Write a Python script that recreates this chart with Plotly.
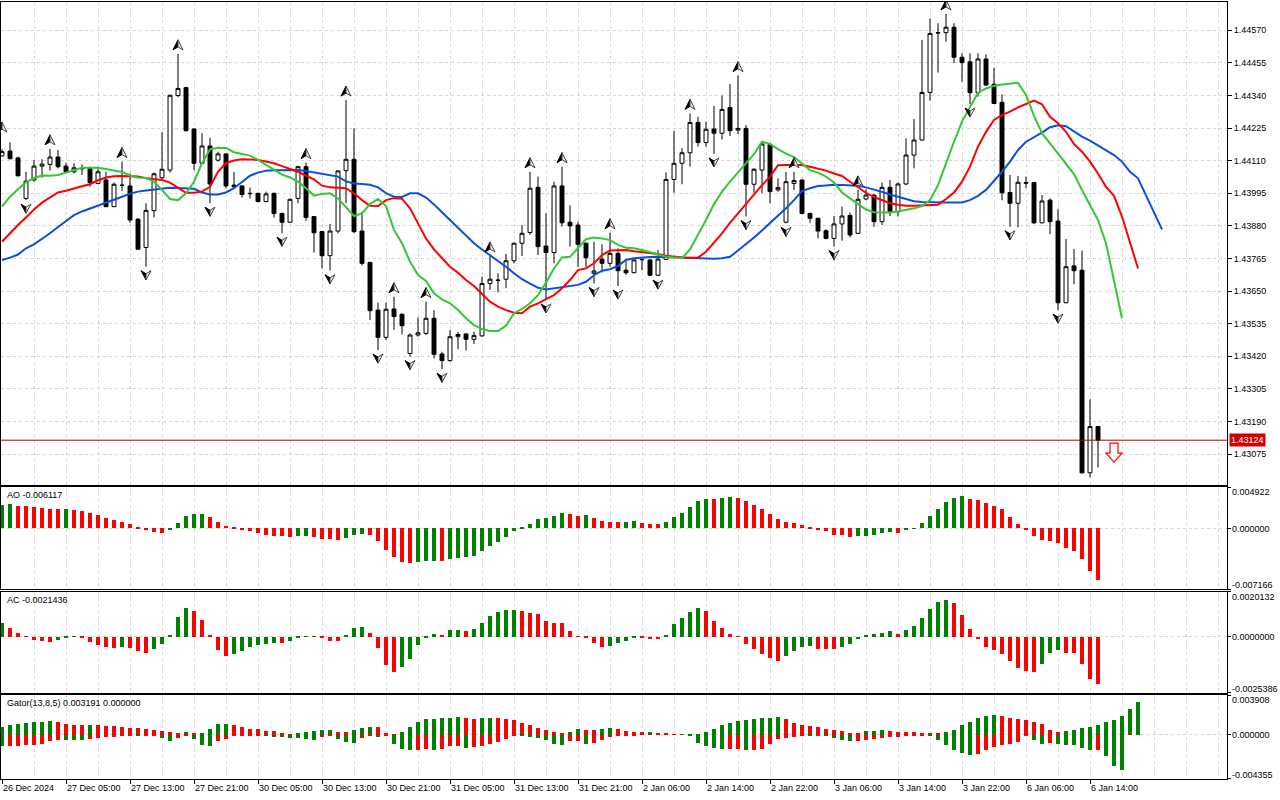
import plotly.graph_objects as go

# H1 candles, bar 0 = 26 Dec 2024 21:00
opens = [
    1.44127, 1.44144, 1.44120, 1.43977, 1.44042, 1.44091, 1.44097, 1.44123, 1.44091, 1.44071,
    1.44083, 1.44085, 1.44030, 1.44042, 1.43948, 1.44024, 1.44021, 1.43904, 1.43804, 1.43934,
    1.44050, 1.44077, 1.44340, 1.44368, 1.44222, 1.44101, 1.44162, 1.44112, 1.44134, 1.44024,
    1.44021, 1.43995, 1.43995, 1.43966, 1.43995, 1.43924, 1.43893, 1.43977, 1.44089, 1.43913,
    1.43860, 1.43775, 1.43862, 1.44075, 1.44115, 1.43862, 1.43751, 1.43583, 1.43487, 1.43587,
    1.43568, 1.43430, 1.43495, 1.43501, 1.43554, 1.43428, 1.43405, 1.43489, 1.43499, 1.43480,
    1.43492, 1.43677, 1.43689, 1.43692, 1.43757, 1.43819, 1.43857, 1.44016, 1.43809, 1.43786,
    1.44021, 1.43893, 1.43883, 1.43819, 1.43713, 1.43763, 1.43748, 1.43783, 1.43724, 1.43715,
    1.43762, 1.43760, 1.43706, 1.43762, 1.44044, 1.44101, 1.44138, 1.44245, 1.44174, 1.44222,
    1.44207, 1.44298, 1.44218, 1.44224, 1.44027, 1.44077, 1.44168, 1.44007, 1.43893, 1.44030,
    1.44042, 1.43924, 1.43907, 1.43863, 1.43836, 1.43887, 1.43917, 1.43854, 1.43975, 1.43989,
    1.43895, 1.44016, 1.43930, 1.44028, 1.44130, 1.44183, 1.44351, 1.44562, 1.44562, 1.44581,
    1.44475, 1.44459, 1.44350, 1.44469, 1.44380, 1.44316, 1.43998, 1.43960, 1.44033, 1.44033,
    1.43891, 1.43971, 1.43897, 1.43609, 1.43739, 1.43724, 1.43009, 1.43172,
]
highs = [
    1.44150, 1.44175, 1.44124, 1.44071, 1.44112, 1.44115, 1.44152, 1.44148, 1.44103, 1.44101,
    1.44097, 1.44089, 1.44083, 1.44071, 1.44033, 1.44107, 1.44065, 1.43907, 1.43960, 1.44068,
    1.44211, 1.44343, 1.44487, 1.44371, 1.44224, 1.44207, 1.44191, 1.44142, 1.44136, 1.44070,
    1.44024, 1.44015, 1.43997, 1.44001, 1.43997, 1.43927, 1.43976, 1.44092, 1.44103, 1.43915,
    1.43862, 1.43887, 1.44077, 1.44324, 1.44224, 1.43930, 1.43754, 1.43609, 1.43609, 1.43630,
    1.43572, 1.43501, 1.43557, 1.43613, 1.43583, 1.43436, 1.43513, 1.43506, 1.43501, 1.43507,
    1.43701, 1.43774, 1.43713, 1.43781, 1.43821, 1.43883, 1.44071, 1.44054, 1.43924, 1.44036,
    1.44089, 1.43953, 1.43895, 1.43821, 1.43824, 1.43815, 1.43856, 1.43801, 1.43760, 1.43762,
    1.43769, 1.43762, 1.43795, 1.44069, 1.44215, 1.44154, 1.44277, 1.44265, 1.44248, 1.44303,
    1.44340, 1.44381, 1.44410, 1.44236, 1.44083, 1.44171, 1.44170, 1.44048, 1.44071, 1.44071,
    1.44044, 1.43927, 1.43909, 1.43868, 1.43915, 1.43948, 1.43927, 1.44007, 1.44009, 1.43991,
    1.44033, 1.44042, 1.44033, 1.44189, 1.44257, 1.44536, 1.44612, 1.44595, 1.44628, 1.44595,
    1.44489, 1.44489, 1.44489, 1.44485, 1.44438, 1.44344, 1.44060, 1.44056, 1.44054, 1.44035,
    1.43989, 1.43977, 1.43939, 1.43834, 1.43798, 1.43793, 1.43268, 1.43172,
]
lows = [
    1.44124, 1.44115, 1.44054, 1.43971, 1.44036, 1.44050, 1.44075, 1.44083, 1.44068, 1.44065,
    1.44060, 1.44018, 1.44027, 1.43946, 1.43946, 1.44004, 1.43891, 1.43795, 1.43736, 1.43910,
    1.44042, 1.44068, 1.44334, 1.44213, 1.44077, 1.44098, 1.43960, 1.44107, 1.44013, 1.44016,
    1.43980, 1.43977, 1.43963, 1.43963, 1.43910, 1.43854, 1.43890, 1.43960, 1.43898, 1.43786,
    1.43730, 1.43722, 1.43854, 1.43960, 1.43854, 1.43740, 1.43548, 1.43442, 1.43477, 1.43513,
    1.43497, 1.43419, 1.43489, 1.43495, 1.43413, 1.43374, 1.43401, 1.43445, 1.43440, 1.43463,
    1.43489, 1.43654, 1.43645, 1.43660, 1.43748, 1.43774, 1.43848, 1.43777, 1.43619, 1.43748,
    1.43877, 1.43807, 1.43736, 1.43736, 1.43677, 1.43716, 1.43736, 1.43668, 1.43707, 1.43713,
    1.43724, 1.43703, 1.43703, 1.43760, 1.43997, 1.44027, 1.44089, 1.44160, 1.44160, 1.44134,
    1.44185, 1.44197, 1.44204, 1.43913, 1.43997, 1.43995, 1.43960, 1.44001, 1.43889, 1.44007,
    1.43921, 1.43891, 1.43836, 1.43833, 1.43807, 1.43828, 1.43840, 1.43851, 1.43971, 1.43877,
    1.43883, 1.43915, 1.43913, 1.44024, 1.44083, 1.44181, 1.44322, 1.44421, 1.44530, 1.44454,
    1.44389, 1.44310, 1.44336, 1.44374, 1.44310, 1.43971, 1.43877, 1.43875, 1.44013, 1.43887,
    1.43889, 1.43851, 1.43583, 1.43607, 1.43674, 1.43007, 1.42993, 1.43028,
]
closes = [
    1.44142, 1.44117, 1.44057, 1.44038, 1.44091, 1.44098, 1.44123, 1.44089, 1.44071, 1.44085,
    1.44082, 1.44033, 1.44071, 1.43948, 1.44027, 1.44023, 1.43901, 1.43798, 1.43935, 1.44064,
    1.44080, 1.44341, 1.44365, 1.44216, 1.44101, 1.44162, 1.44028, 1.44134, 1.44021, 1.44018,
    1.43991, 1.43994, 1.43966, 1.43993, 1.43924, 1.43893, 1.43974, 1.44089, 1.43910, 1.43856,
    1.43775, 1.43862, 1.44074, 1.44115, 1.43860, 1.43748, 1.43581, 1.43487, 1.43586, 1.43560,
    1.43528, 1.43495, 1.43503, 1.43554, 1.43427, 1.43405, 1.43489, 1.43497, 1.43480, 1.43493,
    1.43677, 1.43692, 1.43688, 1.43757, 1.43819, 1.43854, 1.44013, 1.43807, 1.43786, 1.44021,
    1.43891, 1.43880, 1.43815, 1.43768, 1.43721, 1.43748, 1.43783, 1.43722, 1.43715, 1.43760,
    1.43761, 1.43706, 1.43763, 1.44044, 1.44101, 1.44138, 1.44245, 1.44174, 1.44221, 1.44207,
    1.44291, 1.44216, 1.44224, 1.44027, 1.44080, 1.44169, 1.44001, 1.44015, 1.44036, 1.44040,
    1.43924, 1.43907, 1.43862, 1.43836, 1.43887, 1.43915, 1.43848, 1.43974, 1.43989, 1.43895,
    1.44016, 1.43930, 1.44028, 1.44130, 1.44183, 1.44351, 1.44559, 1.44561, 1.44581, 1.44475,
    1.44456, 1.44350, 1.44469, 1.44377, 1.44312, 1.43997, 1.43960, 1.44034, 1.44031, 1.43891,
    1.43968, 1.43895, 1.43609, 1.43736, 1.43722, 1.43009, 1.43172, 1.43124,
]

# Alligator lines, drawn with their forward shift (jaw +8, teeth +5, lips +3)
jaw = [
    1.43760, 1.43768, 1.43779, 1.43801, 1.43815, 1.43834, 1.43854, 1.43876, 1.43898, 1.43918,
    1.43931, 1.43941, 1.43951, 1.43962, 1.43971, 1.43983, 1.43994, 1.44001, 1.44005, 1.44009,
    1.44013, 1.44015, 1.44014, 1.44013, 1.44011, 1.43998, 1.43991, 1.43991, 1.43998, 1.44013,
    1.44036, 1.44057, 1.44068, 1.44075, 1.44076, 1.44077, 1.44077, 1.44077, 1.44074, 1.44069,
    1.44063, 1.44060, 1.44054, 1.44037, 1.44030, 1.44028, 1.44025, 1.44016, 1.43996, 1.43983,
    1.43982, 1.43995, 1.43995, 1.43980, 1.43956, 1.43928, 1.43901, 1.43874, 1.43844, 1.43819,
    1.43797, 1.43777, 1.43756, 1.43736, 1.43713, 1.43692, 1.43676, 1.43662, 1.43656, 1.43660,
    1.43663, 1.43666, 1.43672, 1.43683, 1.43706, 1.43722, 1.43727, 1.43739, 1.43760, 1.43766,
    1.43769, 1.43770, 1.43771, 1.43770, 1.43769, 1.43767, 1.43766, 1.43764, 1.43764, 1.43764,
    1.43766, 1.43771, 1.43793, 1.43815, 1.43839, 1.43864, 1.43889, 1.43915, 1.43942, 1.43971,
    1.44003, 1.44013, 1.44021, 1.44023, 1.44025, 1.44024, 1.44023, 1.44022, 1.44016, 1.44009,
    1.44000, 1.43991, 1.43983, 1.43974, 1.43967, 1.43964, 1.43963, 1.43963, 1.43963, 1.43963,
    1.43963, 1.43971, 1.43986, 1.44007, 1.44038, 1.44071, 1.44107, 1.44148, 1.44177, 1.44192,
    1.44209, 1.44228, 1.44235, 1.44232, 1.44212, 1.44195, 1.44181, 1.44164, 1.44147, 1.44130,
    1.44107, 1.44071, 1.44048, 1.43986, 1.43924, 1.43868,
]
teeth = [
    1.43824, 1.43854, 1.43883, 1.43910, 1.43938, 1.43962, 1.43981, 1.43998, 1.44004, 1.44013,
    1.44020, 1.44027, 1.44041, 1.44051, 1.44055, 1.44056, 1.44056, 1.44054, 1.44048, 1.44044,
    1.44042, 1.44033, 1.44015, 1.43997, 1.43997, 1.44001, 1.44018, 1.44071, 1.44102, 1.44111,
    1.44115, 1.44115, 1.44113, 1.44107, 1.44101, 1.44091, 1.44081, 1.44071, 1.44057, 1.44044,
    1.44022, 1.44016, 1.44015, 1.44013, 1.43995, 1.43971, 1.43951, 1.43950, 1.43971, 1.43978,
    1.43976, 1.43942, 1.43889, 1.43836, 1.43797, 1.43766, 1.43736, 1.43715, 1.43689, 1.43668,
    1.43642, 1.43613, 1.43595, 1.43583, 1.43574, 1.43572, 1.43595, 1.43607, 1.43622, 1.43636,
    1.43660, 1.43689, 1.43724, 1.43730, 1.43748, 1.43777, 1.43793, 1.43793, 1.43795, 1.43791,
    1.43788, 1.43784, 1.43781, 1.43775, 1.43771, 1.43769, 1.43768, 1.43768, 1.43789, 1.43821,
    1.43854, 1.43891, 1.43924, 1.43960, 1.43991, 1.44024, 1.44054, 1.44094, 1.44095, 1.44095,
    1.44095, 1.44089, 1.44082, 1.44075, 1.44065, 1.44056, 1.44036, 1.44015, 1.43997, 1.43982,
    1.43971, 1.43960, 1.43955, 1.43951, 1.43951, 1.43953, 1.43953, 1.43955, 1.43975, 1.43998,
    1.44036, 1.44089, 1.44160, 1.44212, 1.44254, 1.44271, 1.44283, 1.44298, 1.44310, 1.44322,
    1.44309, 1.44265, 1.44242, 1.44212, 1.44169, 1.44142, 1.44107, 1.44065, 1.44018, 1.43986,
    1.43913, 1.43819, 1.43730,
]
lips = [
    1.43948, 1.43983, 1.44009, 1.44034, 1.44049, 1.44058, 1.44057, 1.44060, 1.44068, 1.44077,
    1.44085, 1.44085, 1.44085, 1.44081, 1.44075, 1.44070, 1.44058, 1.44051, 1.44049, 1.44036,
    1.44007, 1.43975, 1.43971, 1.43995, 1.44036, 1.44101, 1.44150, 1.44156, 1.44155, 1.44140,
    1.44134, 1.44128, 1.44113, 1.44095, 1.44077, 1.44061, 1.44051, 1.44036, 1.44013, 1.43987,
    1.43993, 1.43995, 1.43977, 1.43946, 1.43915, 1.43924, 1.43957, 1.43975, 1.43950, 1.43866,
    1.43819, 1.43754, 1.43707, 1.43686, 1.43642, 1.43621, 1.43607, 1.43583, 1.43554, 1.43530,
    1.43516, 1.43509, 1.43509, 1.43528, 1.43572, 1.43587, 1.43607, 1.43636, 1.43680, 1.43730,
    1.43769, 1.43771, 1.43801, 1.43833, 1.43839, 1.43836, 1.43830, 1.43813, 1.43803, 1.43801,
    1.43795, 1.43786, 1.43779, 1.43771, 1.43768, 1.43766, 1.43797, 1.43848, 1.43901, 1.43957,
    1.44001, 1.44036, 1.44069, 1.44098, 1.44133, 1.44177, 1.44169, 1.44151, 1.44135, 1.44123,
    1.44101, 1.44077, 1.44068, 1.44054, 1.44033, 1.43998, 1.43977, 1.43957, 1.43938, 1.43928,
    1.43927, 1.43927, 1.43931, 1.43936, 1.43942, 1.43950, 1.43971, 1.44024, 1.44104, 1.44177,
    1.44248, 1.44301, 1.44350, 1.44365, 1.44374, 1.44379, 1.44383, 1.44385, 1.44342, 1.44268,
    1.44207, 1.44171, 1.44136, 1.44101, 1.44063, 1.44007, 1.43954, 1.43901, 1.43819, 1.43683,
    1.43554,
]

# Bill Williams fractals (bar, value)
fractal_up_bars = [0, 6, 15, 22, 38, 43, 49, 53, 61, 66, 70, 76, 86, 92, 99, 107, 118]
fractal_up_vals = [1.44197, 1.44152, 1.44107, 1.44487, 1.44103, 1.44324, 1.43630, 1.43613, 1.43774,
                   1.44071, 1.44089, 1.43856, 1.44277, 1.44410, 1.44071, 1.44007, 1.44628]
fractal_dn_bars = [3, 18, 26, 35, 41, 47, 51, 55, 68, 74, 77, 82, 89, 93, 98, 104, 121, 126, 132]
fractal_dn_vals = [1.43971, 1.43736, 1.43960, 1.43854, 1.43722, 1.43442, 1.43419, 1.43374, 1.43619,
                   1.43677, 1.43668, 1.43703, 1.44134, 1.43913, 1.43889, 1.43807, 1.44310, 1.43877,
                   1.43583]

ao = [
    0.002766, 0.002844, 0.002688, 0.002649, 0.002532, 0.002454, 0.002338, 0.002260, 0.002299, 0.002182,
    0.002065, 0.001831, 0.001597, 0.001247, 0.001013, 0.000818, 0.000545, 0.000078, -0.000234, -0.000468,
    -0.000506, -0.000234, 0.000662, 0.001480, 0.001714, 0.001753, 0.001364, 0.000818, 0.000312, 0.000117,
    -0.000117, -0.000273, -0.000584, -0.000740, -0.000857, -0.000896, -0.001052, -0.000935, -0.000896, -0.001052,
    -0.001208, -0.001286, -0.001364, -0.001169, -0.000818, -0.000623, -0.000818, -0.001519, -0.002571, -0.003390,
    -0.003974, -0.004091, -0.003974, -0.003896, -0.003818, -0.003896, -0.003623, -0.003467, -0.003390, -0.003312,
    -0.002688, -0.002104, -0.001597, -0.001013, -0.000273, 0.000195, 0.000545, 0.001130, 0.001208, 0.001480,
    0.001831, 0.001753, 0.001519, 0.001597, 0.001286, 0.000896, 0.000818, 0.000779, 0.000818, 0.000857,
    0.000662, 0.000545, 0.000506, 0.000779, 0.001364, 0.001831, 0.002532, 0.003234, 0.003545, 0.003506,
    0.003662, 0.003701, 0.003623, 0.003273, 0.002766, 0.002299, 0.001714, 0.001130, 0.000740, 0.000662,
    0.000390, 0.000117, -0.000078, -0.000351, -0.000740, -0.000818, -0.000974, -0.000935, -0.000857, -0.000740,
    -0.000584, -0.000468, -0.000506, -0.000234, 0.000039, 0.000662, 0.001480, 0.002299, 0.003156, 0.003662,
    0.003818, 0.003545, 0.003351, 0.003000, 0.002649, 0.002260, 0.001364, 0.000545, -0.000156, -0.000935,
    -0.001403, -0.001442, -0.001753, -0.002338, -0.002688, -0.003623, -0.005026, -0.006117,
]
ac = [
    0.0005928, 0.0003952, 0.0001672, -0.0000152, -0.0001368, -0.0002128, -0.0002432, -0.0001520, -0.0000304, 0.0000152,
    -0.0000608, -0.0002432, -0.0003952, -0.0004864, -0.0005168, -0.0004864, -0.0005016, -0.0006688, -0.0007600, -0.0005776,
    -0.0003344, 0.0000912, 0.0008968, 0.0013072, 0.0011400, 0.0007296, 0.0000304, -0.0006232, -0.0008968, -0.0008056,
    -0.0006536, -0.0004560, -0.0003952, -0.0003344, -0.0002736, -0.0003040, -0.0002128, -0.0000304, 0.0000152, -0.0000152,
    -0.0000608, -0.0001824, -0.0002128, 0.0000912, 0.0003952, 0.0004256, 0.0001672, -0.0005168, -0.0013072, -0.0015808,
    -0.0013984, -0.0010032, -0.0003952, -0.0000304, 0.0001216, 0.0000912, 0.0002736, 0.0002888, 0.0002432, 0.0003192,
    0.0005928, 0.0009272, 0.0011096, 0.0011856, 0.0012008, 0.0011552, 0.0010792, 0.0010032, 0.0006992, 0.0006080,
    0.0005928, 0.0002432, -0.0000152, -0.0000304, -0.0002736, -0.0004864, -0.0004408, -0.0003040, -0.0002128, -0.0000456,
    -0.0000608, -0.0000912, -0.0001216, 0.0000912, 0.0005472, 0.0008512, 0.0011248, 0.0013072, 0.0011552, 0.0006992,
    0.0003952, 0.0001216, -0.0000152, -0.0003344, -0.0005776, -0.0008056, -0.0009576, -0.0011248, -0.0008968, -0.0006688,
    -0.0004864, -0.0004256, -0.0005472, -0.0005624, -0.0005776, -0.0004864, -0.0003344, -0.0001216, 0.0000300, 0.0001216,
    0.0001824, 0.0002432, 0.0001216, 0.0002736, 0.0004712, 0.0008208, 0.0012312, 0.0015808, 0.0016416, 0.0015048,
    0.0009576, 0.0003344, -0.0001216, -0.0004864, -0.0006080, -0.0008056, -0.0011248, -0.0014440, -0.0015352, -0.0015808,
    -0.0012616, -0.0007600, -0.0006232, -0.0007296, -0.0007448, -0.0012312, -0.0019000, -0.0021436,
]
gator_up = [
    0.00072, 0.00091, 0.00110, 0.00120, 0.00122, 0.00130, 0.00131, 0.00128, 0.00110, 0.00098,
    0.00091, 0.00095, 0.00094, 0.00090, 0.00087, 0.00078, 0.00071, 0.00062, 0.00055, 0.00042,
    0.00039, 0.00029, 0.00010, 0.00023, 0.00010, 0.00020, 0.00055, 0.00101, 0.00110, 0.00094,
    0.00078, 0.00055, 0.00052, 0.00039, 0.00032, 0.00010, 0.00005, 0.00013, 0.00026, 0.00033,
    0.00042, 0.00043, 0.00029, 0.00023, 0.00042, 0.00062, 0.00078, 0.00072, 0.00020, 0.00005,
    0.00023, 0.00072, 0.00130, 0.00150, 0.00159, 0.00160, 0.00169, 0.00170, 0.00160, 0.00158,
    0.00166, 0.00168, 0.00167, 0.00159, 0.00140, 0.00117, 0.00091, 0.00062, 0.00042, 0.00029,
    0.00008, 0.00029, 0.00052, 0.00050, 0.00048, 0.00060, 0.00068, 0.00060, 0.00040, 0.00023,
    0.00022, 0.00023, 0.00013, 0.00012, 0.00007, 0.00003, 0.00002, 0.00004, 0.00025, 0.00060,
    0.00095, 0.00120, 0.00135, 0.00147, 0.00152, 0.00160, 0.00168, 0.00179, 0.00150, 0.00120,
    0.00092, 0.00081, 0.00072, 0.00052, 0.00042, 0.00033, 0.00020, 0.00010, 0.00033, 0.00034,
    0.00042, 0.00033, 0.00031, 0.00023, 0.00022, 0.00020, 0.00013, 0.00010, 0.00023, 0.00042,
    0.00091, 0.00130, 0.00169, 0.00188, 0.00198, 0.00188, 0.00169, 0.00150, 0.00140, 0.00130,
    0.00101, 0.00042, 0.00023, 0.00041, 0.00051, 0.00063, 0.00073, 0.00098, 0.00123, 0.00145,
    0.00183, 0.00250, 0.003191,
]
gator_dn = [
    -0.00110, -0.00108, -0.00106, -0.00104, -0.00102, -0.00091, -0.00065, -0.00052, -0.00053, -0.00054,
    -0.00055, -0.00045, -0.00036, -0.00026, -0.00020, -0.00013, -0.00005, -0.00007, -0.00006, -0.00005,
    -0.00032, -0.00062, -0.00032, -0.00006, -0.00042, -0.00104, -0.00114, -0.00062, -0.00042, -0.00013,
    -0.00010, -0.00006, -0.00003, -0.00016, -0.00020, -0.00023, -0.00032, -0.00033, -0.00046, -0.00048,
    -0.00020, -0.00013, -0.00042, -0.00072, -0.00078, -0.00030, -0.00005, -0.00020, -0.00015, -0.00095,
    -0.00143, -0.00150, -0.00146, -0.00144, -0.00150, -0.00143, -0.00110, -0.00109, -0.00133, -0.00117,
    -0.00110, -0.00094, -0.00075, -0.00045, -0.00016, -0.00017, -0.00018, -0.00033, -0.00055, -0.00094,
    -0.00101, -0.00062, -0.00060, -0.00091, -0.00078, -0.00052, -0.00026, -0.00008, -0.00006, -0.00003,
    -0.00002, -0.00001, -0.00001, -0.00001, -0.00001, -0.00002, -0.00013, -0.00080, -0.00110, -0.00133,
    -0.00140, -0.00138, -0.00137, -0.00148, -0.00146, -0.00143, -0.00094, -0.00045, -0.00036, -0.00020,
    -0.00006, -0.00007, -0.00003, -0.00006, -0.00032, -0.00052, -0.00062, -0.00060, -0.00052, -0.00042,
    -0.00032, -0.00023, -0.00020, -0.00013, -0.00010, -0.00007, -0.00013, -0.00052, -0.00104, -0.00150,
    -0.00182, -0.00200, -0.00190, -0.00150, -0.00124, -0.00104, -0.00094, -0.00075, -0.00013, -0.00052,
    -0.00094, -0.00085, -0.00088, -0.00098, -0.00099, -0.00126, -0.00155, -0.00152, -0.00212, -0.00303,
    -0.00344, -0.00001, 0.0,
]

price_ticks = [1.43075, 1.43190, 1.43305, 1.43420, 1.43535, 1.43650, 1.43765,
               1.43880, 1.43995, 1.44110, 1.44225, 1.44340, 1.44455, 1.44570]
price_range = [1.42966, 1.44670]
ao_scale = [-0.007166, 0.004922]
ac_scale = [-0.0025386, 0.0020132]
gator_scale = [-0.004355, 0.003908]

time_labels = ["26 Dec 2024", "27 Dec 05:00", "27 Dec 13:00", "27 Dec 21:00", "30 Dec 05:00",
               "30 Dec 13:00", "30 Dec 21:00", "31 Dec 05:00", "31 Dec 13:00", "31 Dec 21:00",
               "2 Jan 06:00", "2 Jan 14:00", "2 Jan 22:00", "3 Jan 06:00", "3 Jan 14:00",
               "3 Jan 22:00", "6 Jan 06:00", "6 Jan 14:00"]
label_every = 8

last_price = 1.43124
sell_bar = 139
sell_price = 1.43114

GREEN = "#008000"
RED = "#FF0000"
GRID = "#D6D6D6"
FONT = "Liberation Sans, Arial, sans-serif"
FS = 9
XR = [-0.125, 153.125]


def updown(vals, use_abs=False):
    cols = [GREEN]
    for a, b in zip(vals, vals[1:]):
        if use_abs:
            a, b = abs(a), abs(b)
        cols.append(GREEN if b > a else RED)
    return cols


fig = go.Figure()

fig.add_trace(go.Candlestick(
    x=list(range(len(opens))), open=opens, high=highs, low=lows, close=closes,
    increasing=dict(fillcolor="white", line=dict(color="black", width=1)),
    decreasing=dict(fillcolor="black", line=dict(color="black", width=1)),
    whiskerwidth=0, xaxis="x", yaxis="y", hoverinfo="skip",
))

for vals, col in [(jaw, "#0A50DC"), (teeth, "#FF0000"), (lips, "#33C833")]:
    fig.add_trace(go.Scatter(x=list(range(len(vals))), y=vals, mode="lines",
                             line=dict(color=col, width=2), xaxis="x", yaxis="y",
                             hoverinfo="skip"))

fig.add_trace(go.Bar(x=list(range(len(ao))), y=ao, marker=dict(color=updown(ao), line=dict(width=0)),
                     width=0.5, xaxis="x2", yaxis="y2", hoverinfo="skip"))
fig.add_trace(go.Bar(x=list(range(len(ac))), y=ac, marker=dict(color=updown(ac), line=dict(width=0)),
                     width=0.5, xaxis="x3", yaxis="y3", hoverinfo="skip"))
fig.add_trace(go.Bar(x=list(range(len(gator_up))), y=gator_up,
                     marker=dict(color=updown(gator_up), line=dict(width=0)),
                     width=0.5, xaxis="x4", yaxis="y4", hoverinfo="skip"))
fig.add_trace(go.Bar(x=list(range(len(gator_dn))), y=gator_dn,
                     marker=dict(color=updown(gator_dn, use_abs=True), line=dict(width=0)),
                     width=0.5, xaxis="x4", yaxis="y4", hoverinfo="skip"))

frame = dict(showline=True, mirror=True, linecolor="black", linewidth=1, zeroline=False)
xgrid = dict(range=XR, tick0=0, dtick=4, showgrid=True, gridcolor=GRID, griddash="3px,3px",
             gridwidth=1, showticklabels=False, ticks="", **frame)

domains = {"": [0.3784, 1.0], "2": [0.2445, 0.3754], "3": [0.1111, 0.2407], "4": [0.0, 0.1081]}
label_bars = [n * label_every for n in range(len(time_labels))]
layout = dict(
    width=1280, height=800, autosize=False,
    margin=dict(l=1, r=53, t=2, b=21),
    plot_bgcolor="white", paper_bgcolor="white",
    showlegend=False, barmode="overlay", bargap=0,
    font=dict(family=FONT, size=FS, color="black"),
)
for k in ["", "2", "3"]:
    layout["xaxis" + k] = dict(domain=[0, 1], anchor="y" + k, **xgrid)
layout["xaxis"]["rangeslider"] = dict(visible=False)
layout["xaxis4"] = dict(domain=[0, 1], anchor="y4", range=XR, tickvals=label_bars,
                        showgrid=True, gridcolor=GRID, griddash="3px,3px", showticklabels=False,
                        ticks="outside", ticklen=4, tickcolor="black",
                        minor=dict(dtick=4, tick0=0, showgrid=True, gridcolor=GRID, griddash="3px,3px"),
                        **frame)

layout["yaxis"] = dict(domain=domains[""], anchor="x", side="right", range=price_range,
                       tickvals=price_ticks, ticktext=["%.5f" % v for v in price_ticks],
                       ticks="outside", ticklen=4, tickcolor="black",
                       showgrid=True, gridcolor=GRID, griddash="3px,3px", **frame)
for k, sc in [("2", ao_scale), ("3", ac_scale), ("4", gator_scale)]:
    layout["yaxis" + k] = dict(domain=domains[k], anchor="x" + k, side="right", range=sc,
                               tickvals=[sc[1], 0, sc[0]], showticklabels=False,
                               ticks="outside", ticklen=3, tickcolor="black",
                               showgrid=True, gridcolor=GRID, griddash="3px,3px", **frame)
fig.update_layout(**layout)

ann = []
# sub window scale labels
for k, sc, dec in [("2", ao_scale, 6), ("3", ac_scale, 7), ("4", gator_scale, 6)]:
    for v, shift in [(sc[1], -5), (0.0, 0), (sc[0], 4)]:
        ann.append(dict(xref="paper", x=1, xanchor="left", xshift=3, yref="y" + k, y=v,
                        yanchor="middle", yshift=shift, showarrow=False,
                        text=("%." + str(dec) + "f") % v))
# indicator names
names = [("2", "AO %.6f" % ao[-1]), ("3", "AC %.7f" % ac[-1]),
         ("4", "Gator(13,8,5) %.6f %.6f" % (gator_up[-1], abs(gator_dn[-1])))]
for k, txt in names:
    ann.append(dict(xref="paper", x=0, xanchor="left", xshift=4, yref="y%s domain" % k, y=1,
                    yanchor="top", yshift=-1, showarrow=False, text=txt))
# time labels
for b, lab in zip(label_bars, time_labels):
    ann.append(dict(xref="x4", x=b, xanchor="left", xshift=-1, yref="paper", y=0,
                    yanchor="top", yshift=-2, showarrow=False, text=lab))
# current price tag
ann.append(dict(xref="paper", x=1, xanchor="left", xshift=2, yref="y", y=last_price,
                yanchor="middle", showarrow=False, text="%.5f" % last_price,
                bgcolor="#D00000", font=dict(color="white", family=FONT, size=FS), borderpad=1))
fig.update_layout(annotations=ann)

fig.add_shape(type="line", xref="x domain", x0=0, x1=1, yref="y", y0=last_price, y1=last_price,
              line=dict(color="#B00000", width=1))

# fractal arrowheads, drawn in pixels a few px off the bar extreme
UP_L = "M 0,14 L -5,4 L 0,7 Z"
UP_R = "M 0,14 L 5,4 L 0,7 Z"
DN_L = "M 0,-13 L -5,-4 L 0,-7 Z"
DN_R = "M 0,-13 L 5,-4 L 0,-7 Z"
for bars, vals, pl, pr in [(fractal_up_bars, fractal_up_vals, UP_L, UP_R),
                           (fractal_dn_bars, fractal_dn_vals, DN_L, DN_R)]:
    for b, v in zip(bars, vals):
        common = dict(type="path", xref="x", yref="y", xsizemode="pixel", ysizemode="pixel",
                      xanchor=b, yanchor=v)
        fig.add_shape(path=pl, fillcolor="black", line=dict(color="black", width=1), **common)
        fig.add_shape(path=pr, fillcolor="#F0F0F0", line=dict(color="#404040", width=1), **common)

fig.add_shape(type="path", xref="x", yref="y", xsizemode="pixel", ysizemode="pixel",
              xanchor=sell_bar, yanchor=sell_price,
              path="M -4,0 L 4,0 L 4,-10 L 8,-10 L 0,-19 L -8,-10 L -4,-10 Z",
              fillcolor="white", line=dict(color="#FF0000", width=1.2))

fig.write_html("out.html", config={"displayModeBar": False},
               post_script="document.body.style.margin='0';document.body.style.overflow='hidden';")
